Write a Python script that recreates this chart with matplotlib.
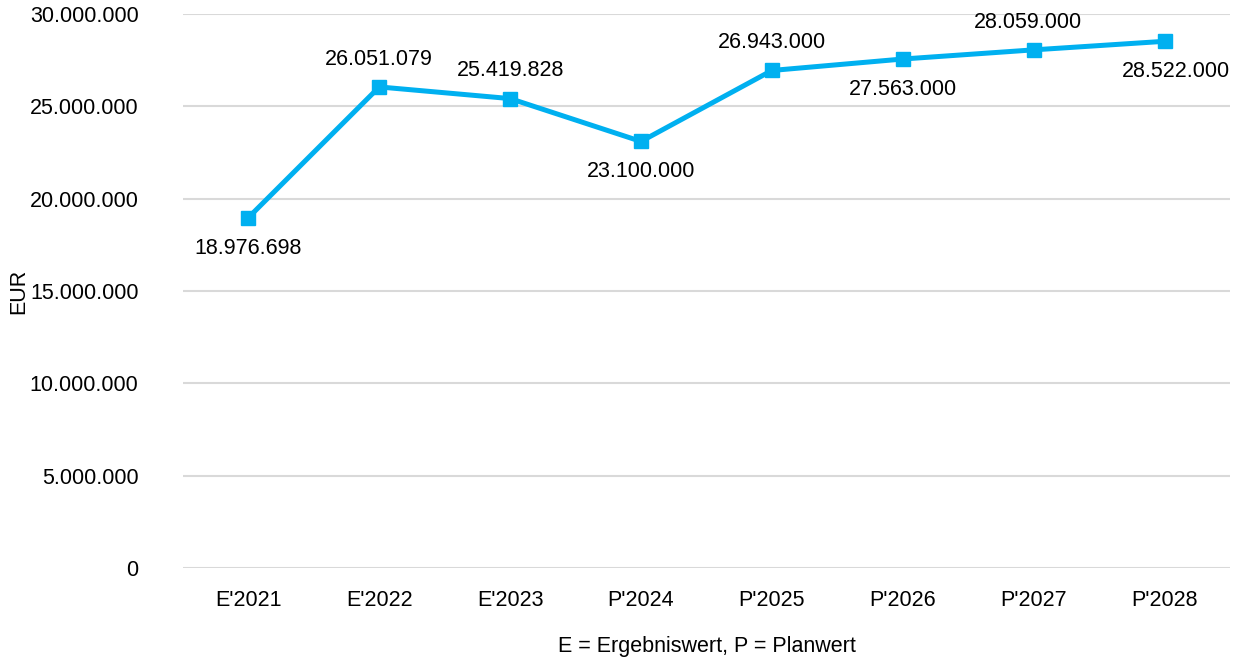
import matplotlib.pyplot as plt
from matplotlib.ticker import FuncFormatter

plt.rcParams['font.family'] = ['Liberation Sans', 'DejaVu Sans']

# Daten
kategorien = ["E'2021", "E'2022", "E'2023", "P'2024", "P'2025", "P'2026", "P'2027", "P'2028"]
werte = [18976698, 26051079, 25419828, 23100000, 26943000, 27563000, 28059000, 28522000]
label_oben = [False, True, True, False, True, False, True, False]


def fmt(v, pos=None):
    return f"{int(v):,}".replace(",", ".")


fig = plt.figure(figsize=(12.43, 6.61), dpi=100)
ax = fig.add_axes([0.1472, 0.1407, 0.8423, 0.8381])

x = range(len(kategorien))
ax.plot(x, werte, color="#00B0F0", linewidth=3.6, marker="s", markersize=9.5, zorder=3)

for i, v in enumerate(werte):
    dy = 20 if label_oben[i] else -22
    dx = 0
    if i == len(werte) - 1:
        dx = 8  # Excel haelt das Label innerhalb der Zeichenflaeche
    if i == len(werte) - 2:
        dx = -4
    ax.annotate(fmt(v), (i, v), xytext=(dx, dy), textcoords="offset points",
                ha="center", va="center", fontsize=15.5, color="black",
                annotation_clip=False)

ax.set_xlim(-0.5, len(kategorien) - 0.5)
ax.set_ylim(0, 30000000)
ax.set_yticks(range(0, 30000001, 5000000))
ax.yaxis.set_major_formatter(FuncFormatter(fmt))
ax.set_xticks(list(x))
ax.set_xticklabels(kategorien)

ax.grid(axis="y", color="#D9D9D9", linewidth=1.5)
ax.set_axisbelow(True)
for s in ax.spines.values():
    s.set_visible(False)
ax.tick_params(length=0, labelsize=15.5, colors="black")
ax.tick_params(axis="y", pad=32)
ax.tick_params(axis="x", pad=16)

ax.set_ylabel("EUR", fontsize=15.5, labelpad=0)
ax.set_xlabel("E = Ergebniswert, P = Planwert", fontsize=15.5, labelpad=18)

plt.savefig("out.png", dpi=100)
